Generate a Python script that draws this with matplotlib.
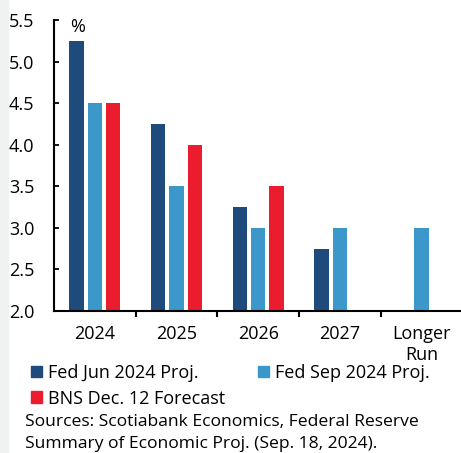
import matplotlib
matplotlib.use("Agg")
import matplotlib.pyplot as plt
from matplotlib.patches import Patch, Rectangle
import numpy as np

plt.rcParams['font.family'] = ['Open Sans', 'DejaVu Sans']

categories = ['2024', '2025', '2026', '2027', 'Longer\nRun']
fed_jun = [5.25, 4.25, 3.25, 2.75, np.nan]
fed_sep = [4.5, 3.5, 3.0, 3.0, 3.0]
bns_dec = [4.5, 4.0, 3.5, np.nan, np.nan]
series_names = ['Fed Jun 2024 Proj.', 'Fed Sep 2024 Proj.', 'BNS Dec. 12 Forecast']

c_dark = '#1f4a7c'
c_light = '#3c97cb'
c_red = '#ec1c2f'

W, H = 461, 453
fig = plt.figure(figsize=(W / 100, H / 100), dpi=100)
fig.patches.append(Rectangle((0, 0), 8 / W, 1, transform=fig.transFigure,
                             color='#f0f2f2', zorder=0))

ax = fig.add_axes([54 / W, 142 / H, 408.5 / W, 291 / H])
x = np.arange(len(categories))
bw = 0.177
off = 0.224
ax.bar(x - off, fed_jun, bw, color=c_dark)
ax.bar(x, fed_sep, bw, color=c_light)
ax.bar(x + off, bns_dec, bw, color=c_red)

ax.set_ylim(2.0, 5.5)
ax.set_xlim(-0.5, len(categories) - 0.5)
ax.set_yticks(np.arange(2.0, 5.51, 0.5))
ax.set_yticklabels([f'{v:.1f}' for v in np.arange(2.0, 5.51, 0.5)])
ax.set_xticks(x)
ax.set_xticklabels(categories)
ax.set_xticks(np.arange(0.5, len(categories) - 0.5, 1), minor=True)

for s in ['top', 'right']:
    ax.spines[s].set_visible(False)
for s in ['left', 'bottom']:
    ax.spines[s].set_linewidth(1.5)

ax.tick_params(axis='y', direction='in', length=3.5, width=1.3, labelsize=13, pad=14)
ax.tick_params(axis='x', which='major', length=0, labelsize=13, pad=10)
ax.tick_params(axis='x', which='minor', direction='out', length=4, width=1.5)

ax.text(24 / 408.5, 0.976, '%', transform=ax.transAxes, fontsize=13,
        ha='center', va='center')

# legend fills column by column, so order entries to read across rows
handles = [Patch(color=c_dark), Patch(color=c_red), Patch(color=c_light)]
labels = [series_names[0], series_names[2], series_names[1]]
fig.legend(handles, labels, loc='upper left', bbox_to_anchor=(31 / W, 1 - 364 / H),
           ncol=2, frameon=False, fontsize=13, handlelength=0.6, handleheight=0.6,
           handletextpad=0.35, columnspacing=1.8, labelspacing=0.42, borderpad=0,
           borderaxespad=0)

fig.text(25 / W, 1 - 422 / H, 'Sources: Scotiabank Economics, Federal Reserve',
         fontsize=12.6, va='center', ha='left')
fig.text(25 / W, 1 - 444 / H, 'Summary of Economic Proj. (Sep. 18, 2024).',
         fontsize=12.6, va='center', ha='left')

fig.savefig('out.png', dpi=100)
